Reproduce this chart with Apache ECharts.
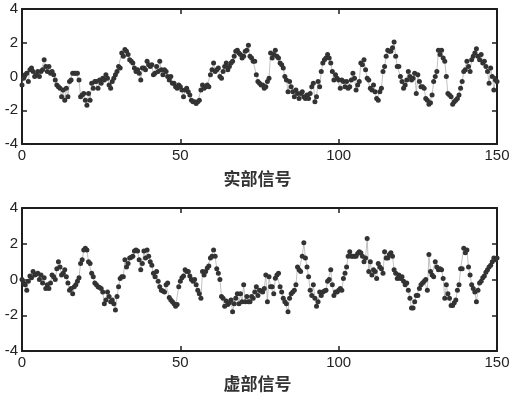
<!DOCTYPE html>
<html>
<head>
<meta charset="utf-8">
<script src="https://cdn.jsdelivr.net/npm/echarts@6/dist/echarts.min.js"></script>
<style>
html,body{margin:0;padding:0;background:#fff;}
#main{width:515px;height:393px;}
</style>
</head>
<body>
<div id="main"></div>
<script>
// sample positions 0, 0.5, ..., 150
const xValues = Array.from({length:301}, (_, k) => k / 2);
// real part signal (实部信号)
const realPart = [
 -0.5,-0.1,0.1,0.2,-0.3,0.4,0.5,0.3,0.0,0.1,
 0.3,0.0,0.3,0.4,1.0,0.6,0.3,0.6,0.2,0.3,
 0.1,-0.2,-0.5,-0.6,-0.7,-1.2,-0.8,-1.4,-0.7,-1.2,
 -0.3,-0.2,0.2,0.2,0.2,0.2,-0.2,-1.2,-1.1,-1.0,
 -1.4,-1.7,-1.0,-1.4,-0.4,-0.7,-0.3,-0.3,-0.7,-0.2,
 -0.4,-0.1,-0.2,0.1,-0.1,-0.5,-0.7,-0.3,-0.1,0.1,
 0.3,0.6,0.5,1.4,1.2,1.6,1.5,1.3,1.0,0.9,
 0.8,0.5,0.3,0.4,0.2,-0.2,0.5,0.5,0.4,0.9,
 0.7,0.6,0.7,0.1,0.2,0.6,0.3,0.9,0.4,0.1,
 0.4,0.3,0.0,-0.2,0.0,-0.4,-0.4,-0.6,-0.7,-0.5,
 -0.6,-0.8,-1.2,-0.8,-0.7,-0.9,-1.1,-1.4,-1.5,-1.5,
 -1.6,-1.5,-1.4,-0.8,-0.5,-0.7,-0.6,-0.5,-0.6,0.1,
 0.4,0.8,0.3,0.4,0.5,0.0,-0.1,0.3,0.6,0.8,
 0.4,0.6,0.8,0.9,1.2,1.5,1.55,1.4,1.3,1.1,
 1.2,1.5,1.55,1.85,1.2,1.1,0.9,0.9,0.1,-0.3,
 -0.4,-0.5,-0.5,-0.7,-0.6,-0.3,-0.1,1.4,1.1,1.3,
 1.55,1.2,1.1,0.8,0.7,0.5,0.0,-0.2,-0.9,-0.3,
 -0.6,-0.9,-1.2,-0.8,-1.0,-1.3,-1.0,-0.9,-1.2,-1.3,
 -1.1,-1.3,-1.0,-0.6,-0.4,-1.5,-1.2,-0.3,-0.6,0.3,
 0.8,1.0,1.1,1.3,1.1,0.8,0.3,-0.2,0.1,-0.1,
 -0.2,-0.7,-0.2,-0.3,-0.6,-0.3,-0.7,-0.6,-0.2,0.2,
 -0.1,-0.8,-0.5,-0.3,0.8,0.7,1.0,0.4,-0.1,-0.2,
 -0.7,-0.8,-0.5,-0.9,-1.3,-1.4,-0.9,-0.7,0.3,0.6,
 1.2,1.55,1.5,1.5,1.7,2.05,1.2,0.6,0.6,0.0,
 -0.3,-0.7,-0.5,-0.2,0.3,0.0,-0.2,-0.1,0.2,-1.0,
 0.1,-0.3,-0.6,-0.6,-0.7,-1.3,-1.4,-1.65,-1.55,-1.1,
 -0.3,0.0,0.3,1.55,1.3,1.55,1.1,0.9,0.0,-1.0,
 -1.1,-1.2,-1.65,-1.5,-1.4,-1.3,-1.1,-0.7,-0.3,0.3,
 0.4,0.9,0.6,0.3,1.0,1.2,1.4,1.65,1.2,1.0,
 1.3,0.8,0.9,0.6,0.3,-0.4,0.5,0.0,-0.8,-0.2,
 -0.3
];
// imaginary part signal (虚部信号)
const imagPart = [
 0.0,-0.2,-0.3,-0.6,-0.1,0.2,0.1,0.45,0.25,0.3,
 0.35,0.0,0.25,-0.2,0.1,-0.5,-0.3,-0.5,-0.2,0.25,
 0.15,0.0,0.6,1.0,0.7,0.25,0.35,0.55,0.15,-0.2,
 -0.6,-0.5,-0.8,-0.4,-0.3,-0.1,0.1,0.9,1.1,1.65,
 1.75,1.65,1.0,0.9,0.35,0.15,-0.2,-0.3,-0.4,-0.45,
 -0.5,-0.7,-1.35,-1.15,-0.7,-0.95,-1.25,-1.15,-1.35,-1.7,
 -0.95,-0.4,0.05,0.15,0.15,1.1,0.7,0.9,1.2,1.25,
 1.3,1.6,1.65,1.6,1.1,0.55,0.9,1.6,1.2,1.65,
 1.3,1.0,0.8,0.35,0.15,0.45,-0.1,-0.4,-0.6,-0.65,
 -0.7,-0.3,-0.2,-1.0,-1.15,-1.25,-1.35,-1.5,-1.4,-0.4,
 -0.1,0.1,0.2,0.55,0.45,0.45,0.2,0.0,-0.1,0.0,
 -0.3,-0.6,-0.8,-1.05,0.45,0.25,0.45,0.65,0.75,1.2,
 1.3,1.65,1.3,0.6,0.35,0.0,-0.95,-1.05,-1.5,-1.2,
 -1.4,-1.3,-1.15,-1.8,-1.35,-1.05,-0.8,-1.35,-0.8,-1.25,
 -0.3,-1.25,-0.95,-1.25,-1.25,-0.95,-1.05,-0.7,-0.4,-0.9,
 -0.6,-0.65,-0.7,-0.5,0.25,-1.25,0.15,-0.4,-0.4,-0.8,
 0.07,0.25,0.35,-0.4,-0.7,-1.05,-1.25,-1.35,-1.8,-1.05,
 -0.8,-0.7,-0.6,-0.3,0.7,0.55,0.45,1.3,2.05,1.2,
 0.7,0.15,-0.6,-0.9,-0.3,-1.05,-1.5,-1.25,-0.7,-0.9,
 -0.7,-0.65,-0.6,-0.1,0.0,0.55,-0.3,-0.9,-0.7,-0.7,
 -0.6,-0.5,-0.6,0.05,0.35,0.7,1.3,1.55,1.3,1.3,
 1.3,1.3,1.45,1.55,1.5,1.3,1.0,1.2,2.3,0.45,
 1.0,0.25,0.55,0.45,0.05,0.9,0.7,0.6,0.35,1.55,
 1.2,1.2,1.4,1.5,1.3,0.55,0.35,0.05,0.25,0.05,
 0.15,-0.1,-0.3,-0.2,-0.6,-1.05,-1.6,-1.6,-1.25,-0.9,
 -0.9,-0.5,-0.3,-0.2,-0.1,0.0,-0.6,1.4,0.45,0.25,
 0.15,1.0,0.7,0.55,0.6,0.55,0.05,-1.05,-0.3,-0.8,
 -1.05,-1.45,-1.45,-1.3,-1.15,-0.6,-0.3,0.6,0.6,1.75,
 1.5,1.65,0.7,0.25,-0.3,-0.5,-0.7,-1.25,-0.6,-0.2,
 -0.1,0.1,0.2,0.4,0.55,0.7,0.8,1.0,1.2,1.1,
 1.2
];
const titles = ['实部信号', '虚部信号'];
const xMin = 0, xMax = 150, xStep = 50;
const yMin = -4, yMax = 4, yStep = 2;

const chart = echarts.init(document.getElementById('main'), null, {renderer:'canvas'});
const lineCol = '#1e1e1e';
function axisCommon(grid, pos, labels, min, max, step){
  return {gridIndex:grid, type:'value', min:min, max:max, interval:step, position:pos,
    axisLine:{show:true, onZero:false, lineStyle:{color:lineCol, width:2}},
    axisTick:{show:true, inside:true, length:5, lineStyle:{color:lineCol, width:1.5}},
    axisLabel:{show:labels, color:'#222', fontSize:15, fontFamily:'Liberation Sans, Arial', margin:4,
      showMinLabel:true, showMaxLabel:true},
    splitLine:{show:false}};
}
const xAx = (g,p,l) => axisCommon(g,p,l,xMin,xMax,xStep);
const yAx = (g,p,l) => axisCommon(g,p,l,yMin,yMax,yStep);
function ser(data, ax){
  return {type:'line', xAxisIndex:ax, yAxisIndex:ax,
    data: xValues.map((x,i)=>[x, data[i]]),
    symbol:'circle', symbolSize:5, showSymbol:true, showAllSymbol:true,
    itemStyle:{color:'#333'},
    lineStyle:{color:'#a8a8a8', width:0.7},
    animation:false};
}
chart.setOption({
  backgroundColor:'#fff',
  animation:false,
  title:[
    {text:titles[0], left:'center', top:165, textStyle:{fontSize:17, fontWeight:'bold', color:'#333', fontFamily:'Noto Sans CJK SC'}},
    {text:titles[1], left:'center', top:370, textStyle:{fontSize:17, fontWeight:'bold', color:'#333', fontFamily:'Noto Sans CJK SC'}}
  ],
  grid:[
    {left:22, top:9, width:475, height:135},
    {left:22, top:208, width:475, height:143}
  ],
  xAxis:[xAx(0,'bottom',true), xAx(0,'top',false), xAx(1,'bottom',true), xAx(1,'top',false)],
  yAxis:[yAx(0,'left',true), yAx(0,'right',false), yAx(1,'left',true), yAx(1,'right',false)],
  series:[ser(realPart,0), ser(imagPart,2)]
});
</script>
</body>
</html>
